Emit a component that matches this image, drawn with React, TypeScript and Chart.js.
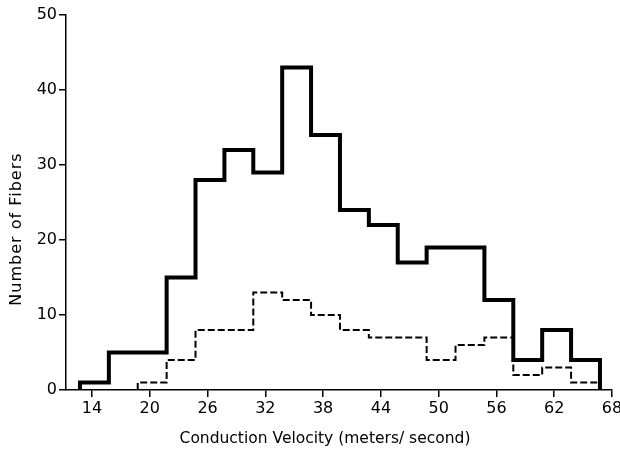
import React, { useEffect, useRef } from "react";
import { Chart, registerables } from "chart.js";

Chart.register(...registerables);

// Left edges of the 3 m/s bins
const binStarts = [12.75, 15.75, 18.75, 21.75, 24.75, 27.75, 30.75, 33.75, 36.75, 39.75, 42.75, 45.75, 48.75, 51.75, 54.75, 57.75, 60.75, 63.75];
const binEnd = 66.75;
// Solid heavy line: all fibers
const allFibers = [1, 5, 5, 15, 28, 32, 29, 43, 34, 24, 22, 17, 19, 19, 12, 4, 8, 4];
// Dashed line: subgroup
const subsetFibers = [null, null, 1, 4, 8, 8, 13, 12, 10, 8, 7, 7, 4, 6, 7, 2, 3, 1];

const xTicks = [14, 20, 26, 32, 38, 44, 50, 56, 62, 68];
const yTicks = [0, 10, 20, 30, 40, 50];
const xTitle = "Conduction Velocity (meters/ second)";
const yTitle = "Number of Fibers";

function histPoints(vals: (number | null)[]) {
  const pts: { x: number; y: number }[] = [];
  let started = false;
  vals.forEach((v, i) => {
    if (v === null) return;
    if (!started) {
      pts.push({ x: binStarts[i], y: 0 });
      started = true;
    }
    pts.push({ x: binStarts[i], y: v });
  });
  pts.push({ x: binEnd, y: 0 });
  return pts;
}

const FONT = "'DejaVu Sans', sans-serif";

export default function App() {
  const ref = useRef<HTMLCanvasElement>(null);
  useEffect(() => {
    if (!ref.current) return;
    const titles = {
      id: "titles",
      afterDraw(chart: any) {
        const ctx = chart.ctx;
        ctx.save();
        ctx.fillStyle = "#000";
        ctx.textAlign = "center";
        ctx.textBaseline = "middle";
        ctx.font = `15.5px ${FONT}`;
        ctx.fillText(xTitle, 325, 439);
        ctx.translate(17, 229);
        ctx.rotate(-Math.PI / 2);
        ctx.font = `16px ${FONT}`;
        (ctx as any).letterSpacing = "1px";
        ctx.fillText(yTitle, 0, 0);
        ctx.restore();
        (ctx as any).letterSpacing = "0px";
      },
    };
    const chart = new Chart(ref.current, {
      type: "line",
      data: {
        datasets: [
          {
            data: histPoints(allFibers),
            borderColor: "#000",
            borderWidth: 4,
            stepped: true,
            pointRadius: 0,
            fill: false,
            borderJoinStyle: "miter",
          },
          {
            data: histPoints(subsetFibers),
            borderColor: "#000",
            borderWidth: 2,
            borderDash: [7, 3],
            stepped: true,
            pointRadius: 0,
            fill: false,
          },
        ],
      },
      options: {
        animation: false,
        responsive: false,
        layout: { padding: { top: 15, right: 8, left: 0, bottom: 0 } },
        plugins: { legend: { display: false }, tooltip: { enabled: false } },
        scales: {
          x: {
            type: "linear",
            min: 11.3,
            max: 68,
            afterBuildTicks: (s: any) => {
              s.ticks = xTicks.map((v) => ({ value: v }));
            },
            afterFit: (s: any) => {
              s.height = 59;
              s.paddingLeft = 0;
              s.paddingRight = 0;
            },
            grid: { drawOnChartArea: false, tickLength: 7, color: "#000", lineWidth: 1.5 },
            border: { color: "#000", width: 1.5 },
            ticks: { color: "#000", font: { family: FONT, size: 16 }, padding: 2, maxRotation: 0, autoSkip: false },
          },
          y: {
            min: 0,
            max: 50,
            afterBuildTicks: (s: any) => {
              s.ticks = yTicks.map((v) => ({ value: v }));
            },
            afterFit: (s: any) => {
              s.width = 66;
              s.paddingTop = 0;
              s.paddingBottom = 0;
            },
            grid: { drawOnChartArea: false, tickLength: 7, color: "#000", lineWidth: 1.5 },
            border: { color: "#000", width: 1.5 },
            ticks: { color: "#000", font: { family: FONT, size: 16 }, padding: 2 },
          },
        },
      },
      plugins: [titles],
    } as any);
    return () => chart.destroy();
  }, []);
  return (
    <div style={{ position: "absolute", left: 0, top: 0, width: 620, height: 449, background: "#fff" }}>
      <canvas ref={ref} width={620} height={449} />
    </div>
  );
}
